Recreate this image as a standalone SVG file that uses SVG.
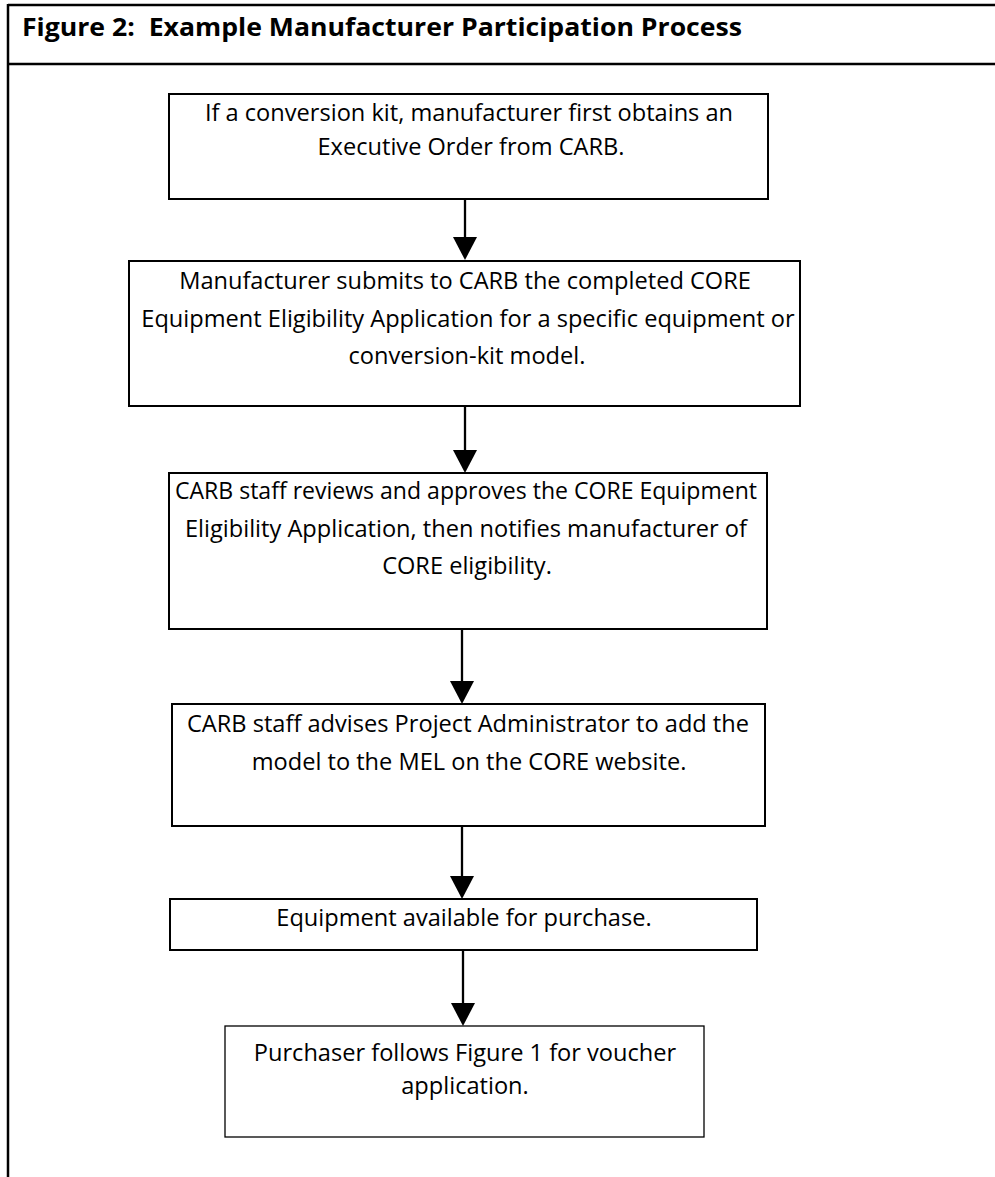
<svg xmlns="http://www.w3.org/2000/svg" width="995" height="1177" viewBox="0 0 995 1177">
<defs>
<style>
.frame{fill:none;stroke:#000;stroke-width:2.5}
.box{fill:#fff;stroke:#000;stroke-width:2}
.thin{stroke-width:1.3}
.t{font-family:"Open Sans","Liberation Sans",sans-serif;font-size:23.6px;fill:#000;text-anchor:middle}
.title{font-family:"Open Sans","Liberation Sans",sans-serif;font-size:25.5px;font-weight:bold;fill:#000;white-space:pre}
.conn line{stroke:#000;stroke-width:2.3}
</style>
</defs>
<rect width="995" height="1177" fill="#fff"/>
<g id="frame">
<line class="frame" x1="8" y1="5" x2="995" y2="5"/>
<line class="frame" x1="8" y1="64" x2="995" y2="64"/>
<line class="frame" x1="8" y1="4" x2="8" y2="1177"/>
<text class="title" x="22" y="36" textLength="720" lengthAdjust="spacingAndGlyphs">Figure 2:  Example Manufacturer Participation Process</text>
</g>
<g id="connectors" class="conn">
<line x1="465" y1="199" x2="465" y2="237"/>
<path d="M453,237 L477,237 L465,260 Z"/>
<line x1="465" y1="406" x2="465" y2="450"/>
<path d="M453,450 L477,450 L465,473 Z"/>
<line x1="462" y1="629" x2="462" y2="681"/>
<path d="M450,681 L474,681 L462,704 Z"/>
<line x1="462" y1="826" x2="462" y2="876"/>
<path d="M450,876 L474,876 L462,899 Z"/>
<line x1="463" y1="950" x2="463" y2="1003"/>
<path d="M451,1003 L475,1003 L463,1026 Z"/>
</g>
<g id="n1">
<rect class="box" x="169" y="94" width="599" height="105"/>
<text class="t" x="469" y="121">If a conversion kit, manufacturer first obtains an</text>
<text class="t" x="471" y="155">Executive Order from CARB.</text>
</g>
<g id="n2">
<rect class="box" x="129" y="261" width="671" height="145"/>
<text class="t" x="465" y="289">Manufacturer submits to CARB the completed CORE</text>
<text class="t" x="468" y="327">Equipment Eligibility Application for a specific equipment or</text>
<text class="t" x="467" y="364">conversion-kit model.</text>
</g>
<g id="n3">
<rect class="box" x="169" y="473" width="598" height="156"/>
<text class="t" x="466" y="499" textLength="582" lengthAdjust="spacingAndGlyphs">CARB staff reviews and approves the CORE Equipment</text>
<text class="t" x="466" y="537">Eligibility Application, then notifies manufacturer of</text>
<text class="t" x="467" y="574">CORE eligibility.</text>
</g>
<g id="n4">
<rect class="box" x="172" y="704" width="593" height="122"/>
<text class="t" x="468" y="732">CARB staff advises Project Administrator to add the</text>
<text class="t" x="469" y="770">model to the MEL on the CORE website.</text>
</g>
<g id="n5">
<rect class="box" x="170" y="899" width="587" height="51"/>
<text class="t" x="464" y="926">Equipment available for purchase.</text>
</g>
<g id="n6">
<rect class="box thin" x="225" y="1026" width="479" height="111"/>
<text class="t" x="465" y="1061">Purchaser follows Figure 1 for voucher</text>
<text class="t" x="465" y="1094">application.</text>
</g>
</svg>
